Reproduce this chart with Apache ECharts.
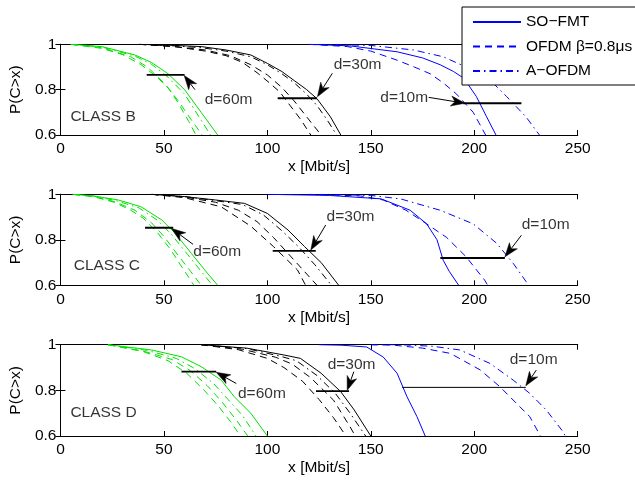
<!DOCTYPE html>
<html><head><meta charset="utf-8">
<script src="https://cdn.jsdelivr.net/npm/echarts@6/dist/echarts.min.js"></script>
<style>html,body{margin:0;padding:0;background:#fff}#c{width:635px;height:481px}</style>
</head><body><div id="c"></div>
<script>
// ---- axes / ticks ----
const xMin = 0, xMax = 250, xStep = 50;          // x ticks 0,50,...,250
const yMin = 0.6, yMax = 1, yStep = 0.2;         // y ticks 0.6,0.8,1
const xName = 'x [Mbit/s]';
const yName = 'P(C>x)';
const classNames = ['CLASS B', 'CLASS C', 'CLASS D'];
const legendNames = ['SO−FMT', 'OFDM β=0.8μs', 'A−OFDM'];

// ---- CLASS B ----
const B_g_solid   = [[5,1],[20,0.99],[36,0.953],[44,0.92],[52,0.87],[60,0.8],[68,0.7],[76,0.6]];
const B_g_dashdot = [[5,1],[20,0.988],[36,0.948],[44,0.912],[52,0.855],[60,0.78],[67,0.68],[72.5,0.6]];
const B_g_dashB   = [[5,1],[20,0.985],[34,0.945],[42,0.9],[50,0.83],[57,0.75],[63,0.67],[68.5,0.6]];
const B_g_dashA   = [[5,1],[20,0.982],[30,0.955],[39,0.91],[46,0.86],[52,0.81],[57,0.74],[62,0.66],[65.5,0.6]];
const B_k_solid   = [[38,1],[55,0.995],[68,0.99],[80,0.975],[92,0.953],[100,0.916],[107,0.88],[113,0.84],[119,0.8],[124,0.76],[130.5,0.68],[135.5,0.6]];
const B_k_dashdot = [[38,1],[55,0.993],[68,0.985],[80,0.97],[92,0.945],[100,0.91],[107,0.87],[113,0.83],[119,0.78],[124,0.73],[129,0.665],[133.5,0.6]];
const B_k_dashB   = [[38,1],[55,0.99],[70,0.975],[82,0.95],[92,0.91],[100,0.865],[107,0.81],[113,0.75],[119,0.68],[126,0.6]];
const B_k_dashA   = [[38,1],[55,0.99],[70,0.97],[80,0.95],[88,0.92],[95,0.875],[101,0.83],[106,0.79],[111,0.73],[116,0.67],[121,0.6]];
const B_b_solid   = [[120,1],[140,0.993],[162.7,0.967],[175,0.94],[183.5,0.91],[190,0.88],[195,0.85],[201,0.77],[206,0.68],[210.5,0.6]];
const B_b_dash    = [[120,1],[138.6,0.99],[150,0.97],[162.7,0.93],[171,0.9],[178.7,0.87],[185,0.83],[191.5,0.78],[199.5,0.7],[205.5,0.6]];
const B_b_dashdot = [[125,1],[150,0.995],[170.6,0.975],[185,0.945],[196,0.9],[206,0.857],[215.6,0.77],[225,0.68],[231.5,0.6]];
const B_hlines = [[41.7,60,0.865],[105,124,0.762],[194.7,222.8,0.74]];
const B_arrows = [[65,0.8,59.8,0.862],[131.4,0.872,124.2,0.769],[178,0.766,195.5,0.74]];
const B_texts  = [[69.7,0.754,'d=60m','left'],[143.6,0.909,'d=30m','center'],[177.7,0.763,'d=10m','right']];
const B_label  = [4.8,0.68];

// ---- CLASS C ----
const C_g_solid   = [[6,1],[16,0.993],[28,0.975],[39,0.945],[49,0.887],[55.3,0.83],[63.3,0.74],[71.3,0.65],[76,0.6]];
const C_g_dashdot = [[6,1],[16,0.992],[27,0.972],[38,0.94],[47,0.885],[53.5,0.825],[61.5,0.735],[69,0.65],[73.5,0.6]];
const C_g_dashB   = [[6,1],[16,0.99],[26,0.968],[36,0.93],[44,0.875],[50,0.815],[57,0.73],[63,0.66],[68,0.6]];
const C_g_dashA   = [[6,1],[16,0.99],[26,0.965],[34,0.93],[40,0.895],[47,0.83],[53,0.76],[58,0.69],[62,0.635],[64.5,0.6]];
const C_k_solid   = [[44,1],[60,0.99],[75,0.975],[89,0.96],[100,0.916],[110,0.843],[118,0.77],[126,0.7],[134.5,0.6]];
const C_k_dashdot = [[44,1],[60,0.99],[75,0.972],[88,0.955],[98,0.91],[107,0.84],[115,0.77],[123,0.69],[131,0.6]];
const C_k_dashB   = [[44,1],[60,0.988],[75,0.965],[86,0.93],[95,0.88],[103,0.81],[110,0.74],[117,0.67],[124,0.6]];
const C_k_dashA   = [[44,1],[60,0.985],[77.7,0.945],[92,0.86],[103,0.77],[114.6,0.667],[118.5,0.6]];
const C_b_solid   = [[100,1],[130,0.995],[155,0.98],[169,0.93],[177,0.87],[182,0.8],[185,0.71],[188,0.66],[192.5,0.6]];
const C_b_dash    = [[120,1],[145,0.993],[156,0.975],[167,0.93],[177,0.87],[186.7,0.81],[196,0.726],[205,0.623],[206.5,0.6]];
const C_b_dashdot = [[125,1],[150,0.995],[164.3,0.98],[183.5,0.93],[199.5,0.87],[210.8,0.785],[218.8,0.697],[225,0.617],[226,0.6]];
const C_hlines = [[40.9,54.5,0.853],[102.6,123.4,0.751],[183.6,214.8,0.72]];
const C_arrows = [[64.1,0.78,53.7,0.85],[128.2,0.865,121,0.755],[222.8,0.82,214.8,0.725]];
const C_texts  = [[64.2,0.748,'d=60m','left'],[140.2,0.9,'d=30m','center'],[234.5,0.865,'d=10m','center']];
const C_label  = [6.4,0.685];

// ---- CLASS D ----
const D_g_solid   = [[23,1],[44,0.977],[58.5,0.947],[68,0.904],[77.7,0.845],[84,0.772],[92,0.7],[100,0.6]];
const D_g_dashdot = [[23,1],[42,0.975],[56,0.94],[65,0.895],[74,0.83],[81,0.76],[88,0.69],[94.5,0.6]];
const D_g_dashB   = [[23,1],[40,0.972],[54,0.935],[63,0.885],[71,0.82],[78,0.75],[85,0.67],[90.5,0.6]];
const D_g_dashA   = [[23,1],[40,0.97],[52,0.93],[61,0.875],[69,0.805],[76,0.735],[82,0.665],[87,0.6]];
const D_k_solid   = [[68,1],[90,0.985],[108,0.955],[116,0.94],[126,0.875],[135.4,0.795],[142,0.714],[150,0.6]];
const D_k_dashdot = [[68,1],[90,0.983],[106,0.95],[114,0.93],[124,0.865],[133,0.785],[140,0.7],[147.5,0.6]];
const D_k_dashB   = [[68,1],[88,0.98],[104,0.945],[112,0.915],[121,0.855],[132,0.757],[140,0.64],[142.5,0.6]];
const D_k_dashA   = [[68,1],[86,0.978],[100,0.94],[108,0.9],[117,0.84],[125,0.76],[132,0.68],[138,0.6]];
const D_b_solid   = [[125,1],[135.6,0.998],[148,0.99],[156,0.946],[162.7,0.875],[167.5,0.772],[172.3,0.685],[176.3,0.6]];
const D_b_dash    = [[150,1],[161,0.998],[175,0.985],[188.4,0.962],[202.8,0.89],[212.4,0.816],[220.4,0.743],[226.8,0.685],[232,0.6]];
const D_b_dashdot = [[150,1],[164.3,1],[180,0.993],[193,0.977],[207.6,0.918],[218.8,0.845],[226.8,0.787],[234.8,0.714],[242.8,0.62],[244,0.6]];
const D_hlines = [[58.5,75.3,0.882],[123.5,139.5,0.797],[165.2,224.9,0.813]];
const D_arrows = [[85,0.83,75.3,0.879],[141.8,0.882,138.6,0.8],[230,0.889,224.9,0.82]];
const D_texts  = [[85.8,0.787,'d=60m','left'],[140.7,0.911,'d=30m','center'],[228.7,0.936,'d=10m','center']];
const D_label  = [4.8,0.70];

// ---- build ----
const FONT = "'Liberation Sans', Arial, Helvetica, sans-serif";
const FS = 15.5;
const GREEN = '#00e000', BLACK = '#000000', BLUE = '#0000ff';
const DASH = [7,5], DASHDOT = [7,4,1.5,4];
const HEAD_L = 14, HEAD_W = 10;

const panels = [
  {g:[B_g_solid,B_g_dashdot,B_g_dashB,B_g_dashA], k:[B_k_solid,B_k_dashdot,B_k_dashB,B_k_dashA], b:[B_b_solid,B_b_dash,B_b_dashdot], h:B_hlines, a:B_arrows, t:B_texts, lab:B_label},
  {g:[C_g_solid,C_g_dashdot,C_g_dashB,C_g_dashA], k:[C_k_solid,C_k_dashdot,C_k_dashB,C_k_dashA], b:[C_b_solid,C_b_dash,C_b_dashdot], h:C_hlines, a:C_arrows, t:C_texts, lab:C_label},
  {g:[D_g_solid,D_g_dashdot,D_g_dashB,D_g_dashA], k:[D_k_solid,D_k_dashdot,D_k_dashB,D_k_dashA], b:[D_b_solid,D_b_dash,D_b_dashdot], h:D_hlines, a:D_arrows, t:D_texts, lab:D_label}
];
const gridTops = [44.3, 194.3, 344.7];
const gridHeights = [90.7, 91, 91.3];

const grids = [], xAxes = [], yAxes = [], series = [];
const axLine = {show:true, lineStyle:{color:'#000', width:1}};
const tick = {show:true, inside:true, length:5, lineStyle:{color:'#000', width:1}};

function renderArrow(params, api) {
  const p1 = api.coord([api.value(0), api.value(1)]);
  const p2 = api.coord([api.value(2), api.value(3)]);
  const dx = p2[0]-p1[0], dy = p2[1]-p1[1];
  const len = Math.sqrt(dx*dx+dy*dy) || 1;
  const ux = dx/len, uy = dy/len, nx = -uy, ny = ux;
  const bx = p2[0]-ux*HEAD_L, by = p2[1]-uy*HEAD_L;
  const notch = [p2[0]-ux*HEAD_L*0.72, p2[1]-uy*HEAD_L*0.72];
  return {type:'group', children:[
    {type:'line', shape:{x1:p1[0], y1:p1[1], x2:notch[0], y2:notch[1]}, style:{stroke:'#000', lineWidth:1}},
    {type:'polygon', shape:{points:[p2, [bx+nx*HEAD_W/2, by+ny*HEAD_W/2], notch, [bx-nx*HEAD_W/2, by-ny*HEAD_W/2]]},
      style:{fill:'#000', stroke:'#000', lineWidth:0.5}}
  ]};
}

panels.forEach((p, i) => {
  grids.push({left:58.3, right:57.3, top:gridTops[i], height:gridHeights[i]});
  xAxes.push({gridIndex:i, type:'value', min:xMin, max:xMax, interval:xStep, position:'bottom',
    axisLine:axLine, axisTick:tick, splitLine:{show:false},
    axisLabel:{color:'#000', fontSize:FS, fontFamily:FONT, margin:6},
    name:xName, nameLocation:'middle', nameGap:24, nameTextStyle:{color:'#000', fontSize:FS, fontFamily:FONT}});
  xAxes.push({gridIndex:i, type:'value', min:xMin, max:xMax, interval:xStep, position:'top',
    axisLine:axLine, axisTick:tick, splitLine:{show:false}, axisLabel:{show:false}});
  yAxes.push({gridIndex:i, type:'value', min:yMin, max:yMax, interval:yStep, position:'left',
    axisLine:axLine, axisTick:tick, splitLine:{show:false},
    axisLabel:{color:'#000', fontSize:FS, fontFamily:FONT, margin:4},
    name:yName, nameLocation:'middle', nameGap:34, nameRotate:90, nameTextStyle:{color:'#000', fontSize:FS, fontFamily:FONT}});
  yAxes.push({gridIndex:i, type:'value', min:yMin, max:yMax, interval:yStep, position:'right',
    axisLine:axLine, axisTick:tick, splitLine:{show:false}, axisLabel:{show:false}});

  const xi = i*2, yi = i*2;
  const mk = (name, data, color, type) => ({
    type:'line', name, data, xAxisIndex:xi, yAxisIndex:yi, symbol:'none', showSymbol:false,
    clip:true, silent:true, lineStyle:{color, width:1, type}, itemStyle:{color}, z:2
  });
  const gTypes = ['solid', DASHDOT, DASH, DASH];
  p.g.forEach((d, j) => series.push(mk('g'+i+'_'+j, d, GREEN, gTypes[j])));
  p.k.forEach((d, j) => series.push(mk('k'+i+'_'+j, d, BLACK, gTypes[j])));
  const bTypes = ['solid', DASH, DASHDOT];
  p.b.forEach((d, j) => series.push(mk(i === 0 ? legendNames[j] : ('b'+i+'_'+j), d, BLUE, bTypes[j])));

  // annotation horizontal lines
  p.h.forEach((h, j) => {
    series.push({type:'line', name:'h'+i+'_'+j, data:[[h[0],h[2]],[h[1],h[2]]], xAxisIndex:xi, yAxisIndex:yi,
      symbol:'none', silent:true, lineStyle:{color:'#000', width:(i===2 && j===2) ? 1 : 1.8}, z:3});
  });
  // arrows
  series.push({type:'custom', name:'a'+i, xAxisIndex:xi, yAxisIndex:yi, silent:true, z:4, clip:false,
    data:p.a, encode:{x:[0,2], y:[1,3]}, renderItem:renderArrow});

  // annotation texts
  const txt = p.t.map(t => ({value:[t[0],t[1]], name:t[2], align:t[3]}));
  txt.push({value:[p.lab[0],p.lab[1]], name:classNames[i], align:'left'});
  series.push({type:'scatter', name:'t'+i, xAxisIndex:xi, yAxisIndex:yi, symbolSize:0, silent:true, z:5,
    data: txt.map(d => ({value:d.value, name:d.name,
      label:{show:true, formatter:d.name, color:'#000', fontSize:FS, fontFamily:FONT,
        position: d.align === 'left' ? 'right' : (d.align === 'right' ? 'left' : 'inside'), distance:0}}))});
});

const chart = echarts.init(document.getElementById('c'), null, {renderer:'canvas'});
chart.setOption({
  animation:false,
  backgroundColor:'#fff',
  grid:grids, xAxis:xAxes, yAxis:yAxes, series,
  legend:{data:legendNames, orient:'vertical', left:462, top:7, itemWidth:48, itemHeight:14, itemGap:8.5,
    padding:[7,10,6,10], backgroundColor:'#fff', borderColor:'#000', borderWidth:1, borderRadius:0,
    selectedMode:false, itemStyle:{opacity:0},
    textStyle:{color:'#000', fontSize:FS, fontFamily:FONT, lineHeight:14}, z:10}
});
</script></body></html>
